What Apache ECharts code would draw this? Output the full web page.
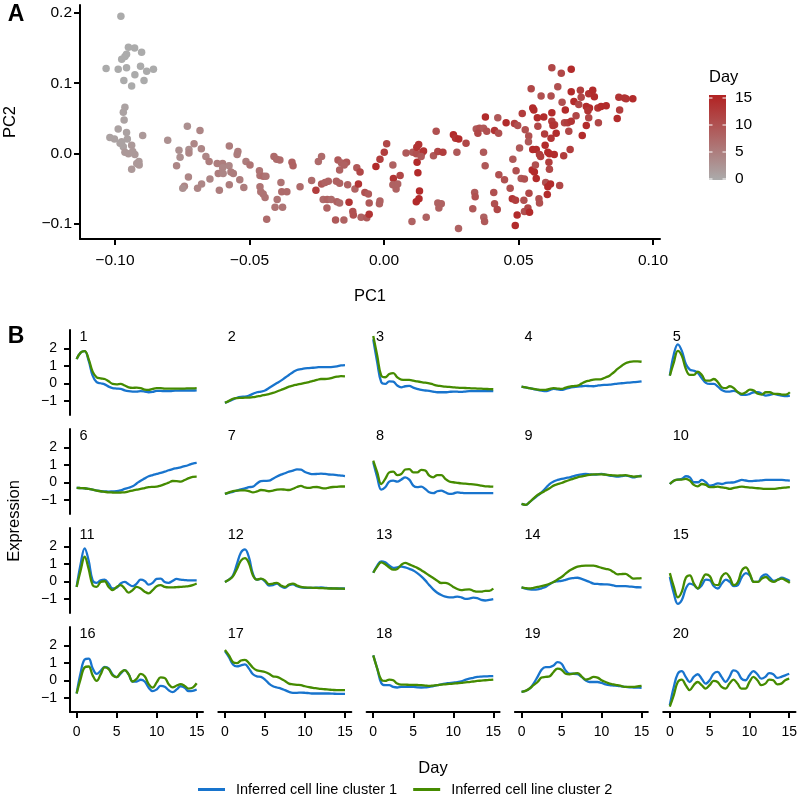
<!DOCTYPE html>
<html>
<head>
<meta charset="utf-8">
<script src="https://cdn.jsdelivr.net/npm/echarts@6.0.0/dist/echarts.min.js"></script>
<style>
  html, body { margin: 0; padding: 0; background: #fff; }
  #main { width: 800px; height: 797px; }
</style>
</head>
<body>
<div id="main"></div>
<script>
// ---- data ----
// panel A: [PC1, PC2, Day]
var cells = [
  [-0.0978,0.195,0],[-0.0950,0.151,0],[-0.0927,0.150,0],[-0.0901,0.144,0],[-0.0957,0.141,0],[-0.0975,0.134,0],
  [-0.1033,0.121,0],[-0.0988,0.120,0],[-0.0957,0.122,0],[-0.0905,0.124,0],[-0.0882,0.117,0],[-0.0857,0.120,0],
  [-0.0926,0.112,0],[-0.0967,0.104,0],[-0.0892,0.104,0],[-0.0938,0.096,0],[-0.0963,0.138,0],
  [-0.0963,0.066,1],[-0.0969,0.059,1],[-0.0966,0.048,1],[-0.0988,0.035,1],[-0.0957,0.030,1],[-0.0897,0.026,2],
  [-0.1019,0.023,1],[-0.1002,0.021,1],[-0.0975,0.017,1],[-0.0954,0.021,1],[-0.0938,0.012,2],[-0.0969,0.010,1],
  [-0.0963,0.002,2],[-0.0950,0.000,2],[-0.0926,-0.001,2],[-0.0934,0.003,2],[-0.0911,-0.011,2],[-0.0910,-0.016,2],
  [-0.0919,-0.014,2],[-0.0938,-0.022,2],[-0.0981,0.015,1],
  [-0.0804,0.019,3],[-0.0731,0.039,3],[-0.0684,0.033,4],[-0.0762,0.005,3],[-0.0725,0.006,3],[-0.0725,0.001,4],
  [-0.0706,0.014,4],[-0.0679,0.007,4],[-0.0758,-0.005,3],[-0.0771,-0.017,4],[-0.0727,-0.033,4],[-0.0742,-0.046,4],
  [-0.0748,-0.049,3],[-0.0693,-0.049,4],[-0.0678,-0.043,4],[-0.0662,-0.004,4],[-0.0650,-0.011,5],[-0.0647,-0.036,4],
  [-0.0620,-0.014,5],[-0.0600,-0.014,5],[-0.0600,-0.020,4],[-0.0616,-0.028,5],[-0.0598,-0.028,4],[-0.0612,-0.052,5],
  [-0.0575,0.011,5],[-0.0576,-0.017,4],[-0.0569,-0.026,5],[-0.0560,-0.028,5],[-0.0575,-0.044,5],[-0.0543,0.003,5],
  [-0.0546,-0.001,5],[-0.0536,-0.037,5],[-0.0521,-0.048,5],[-0.0513,-0.011,5],[-0.0498,-0.016,6],
  [-0.0463,-0.024,6],[-0.0461,-0.031,6],[-0.0449,-0.032,7],[-0.0439,-0.032,6],[-0.0461,-0.047,6],[-0.0458,-0.054,6],
  [-0.0449,-0.057,6],[-0.0442,-0.062,6],[-0.0436,-0.093,7],[-0.0409,-0.004,7],[-0.0399,-0.008,7],[-0.0387,-0.009,7],
  [-0.0383,-0.041,6],[-0.0397,-0.065,6],[-0.0405,-0.076,6],[-0.0377,-0.076,6],[-0.0380,-0.054,7],[-0.0361,-0.054,7],
  [-0.0342,-0.012,8],[-0.0338,-0.017,8],[-0.0312,-0.047,7],
  [-0.0269,-0.038,7],[-0.0244,-0.011,7],[-0.0232,-0.004,7],[-0.0253,-0.052,12],[-0.0232,-0.043,9],[-0.0219,-0.041,8],
  [-0.0207,-0.039,8],[-0.0226,-0.065,7],[-0.0211,-0.065,8],[-0.0196,-0.065,7],[-0.0175,-0.068,8],[-0.0165,-0.070,7],
  [-0.0212,-0.077,8],[-0.0180,-0.094,9],[-0.0149,-0.094,8],[-0.0171,-0.009,9],[-0.0158,-0.013,8],[-0.0139,-0.012,9],
  [-0.0148,-0.016,8],[-0.0165,-0.023,8],[-0.0177,-0.039,8],[-0.0165,-0.042,8],[-0.0135,-0.044,8],[-0.0130,-0.069,13],
  [-0.0116,-0.082,10],[-0.0114,-0.087,10],[-0.0108,-0.050,8],[-0.0101,-0.020,9],[-0.0089,-0.026,11],[-0.0095,-0.043,13],
  [-0.0085,-0.090,8],[-0.0064,-0.091,9],[-0.0071,-0.055,10],[-0.0058,-0.057,9],[-0.0055,-0.070,9],[-0.0055,-0.086,13],
  [-0.0030,-0.018,14],[-0.0015,-0.067,8],[-0.0017,-0.071,8],[-0.0015,-0.008,12],[0.0001,0.002,12],[0.0010,0.014,11],
  [0.0033,-0.016,8],[0.0035,-0.035,13],[0.0060,-0.031,11],[0.0033,-0.044,8],[0.0045,-0.050,8],[0.0051,-0.043,8],
  [0.0104,-0.096,8],[0.0157,-0.090,8],[0.0082,0.001,9],[0.0107,0.002,9],[0.0120,0.000,10],[0.0129,0.013,13],
  [0.0122,0.009,13],[0.0141,0.001,10],[0.0147,0.004,13],[0.0123,-0.012,14],[0.0126,-0.027,14],[0.0132,-0.053,14],
  [0.0130,-0.064,14],[0.0120,-0.068,14],[0.0138,-0.004,9],[0.0184,-0.003,9],[0.0200,0.003,11],[0.0219,0.002,12],
  [0.0194,0.032,10],[0.0200,-0.070,8],[0.0213,-0.071,8],[0.0204,-0.077,8],[0.0258,0.027,14],[0.0266,0.022,13],
  [0.0278,0.021,14],[0.0271,0.002,9],[0.0305,0.015,11],[0.0277,-0.106,8],[0.0337,-0.055,9],[0.0339,-0.061,10],
  [0.0330,-0.078,9],[0.0370,0.002,9],[0.0376,-0.017,9],[0.0371,-0.090,8],[0.0374,-0.096,9],[0.0343,0.035,9],
  [0.0355,0.036,10],[0.0370,0.036,9],[0.0382,0.032,10],[0.0349,0.029,11],[0.0377,0.052,14],[0.0411,0.033,13],
  [0.0426,0.029,10],[0.0423,0.051,9],[0.0408,-0.055,10],[0.0411,-0.071,10],[0.0421,-0.079,11],[0.0427,-0.030,10],
  [0.0448,-0.037,10],[0.0454,0.044,14],[0.0469,-0.049,10],[0.0479,-0.008,9],[0.0477,-0.064,13],[0.0489,-0.066,12],
  [0.0485,0.043,12],[0.0497,0.040,10],[0.0491,-0.024,10],[0.0488,-0.102,14],[0.0495,-0.087,14],[0.0504,0.008,9],
  [0.0514,0.057,12],[0.0525,0.034,10],[0.0510,-0.035,9],[0.0522,-0.036,10],[0.0520,-0.066,10],[0.0522,-0.082,10],
  [0.0535,-0.077,11],[0.0541,-0.083,14],[0.0538,0.025,10],[0.0537,0.017,9],[0.0539,-0.056,11],[0.0547,0.092,11],
  [0.0553,0.065,14],[0.0557,0.062,14],[0.0553,0.006,14],[0.0566,0.006,14],[0.0551,-0.023,14],[0.0559,-0.026,14],
  [0.0563,-0.016,10],[0.0566,-0.035,14],[0.0572,0.039,11],[0.0570,0.051,14],[0.0576,-0.064,10],[0.0578,-0.070,10],
  [0.0578,-0.001,12],[0.0582,-0.004,12],[0.0584,0.082,10],[0.0594,0.052,14],[0.0597,0.028,12],[0.0599,0.012,14],
  [0.0601,-0.041,10],[0.0609,0.002,14],[0.0615,0.000,14],[0.0613,-0.012,12],[0.0607,-0.058,14],[0.0609,-0.047,14],
  [0.0615,-0.022,11],[0.0621,0.082,10],[0.0624,0.058,14],[0.0624,0.046,12],[0.0634,0.041,12],[0.0628,0.040,13],
  [0.0619,-0.043,14],[0.0621,0.022,13],[0.0633,-0.001,14],[0.0640,0.029,14],[0.0646,0.095,10],[0.0653,-0.045,11],
  [0.0624,0.122,11],[0.0659,0.114,11],[0.0696,0.120,14],[0.0662,0.073,10],[0.0668,-0.003,12],[0.0671,0.044,11],
  [0.0683,0.044,12],[0.0674,0.062,14],[0.0687,0.032,11],[0.0692,0.006,12],[0.0696,0.046,13],[0.0696,0.088,14],
  [0.0706,0.074,14],[0.0714,0.054,11],[0.0724,0.070,11],[0.0730,0.090,12],[0.0733,0.080,11],[0.0737,0.026,14],
  [0.0752,0.040,14],[0.0752,0.067,14],[0.0764,0.065,14],[0.0758,0.061,13],[0.0761,0.051,11],[0.0761,0.085,13],
  [0.0776,0.090,14],[0.0782,0.081,14],[0.0797,0.044,11],[0.0795,0.065,13],[0.0807,0.067,14],[0.0826,0.068,14],
  [0.0867,0.050,14],[0.0873,0.080,13],[0.0876,0.062,12],[0.0894,0.079,13],[0.0900,0.078,13],[0.0925,0.078,14]
];
var pc1Ticks = [-0.10, -0.05, 0, 0.05, 0.10];
var pc2Ticks = [-0.1, 0, 0.1, 0.2];
var dayLegendTicks = [0, 5, 10, 15];

// panel B: expression per cluster, sampled every half day
var days = [0,0.5,1,1.5,2,2.5,3,3.5,4,4.5,5,5.5,6,6.5,7,7.5,8,8.5,9,9.5,10,10.5,11,11.5,12,12.5,13,13.5,14,14.5,15];
var dayTicks = [0, 5, 10, 15];
var exprTicks = [-1, 0, 1, 2];

var cluster1 = [
  [1.39,1.76,1.84,1.30,0.45,0.08,0.02,-0.04,-0.17,-0.26,-0.28,-0.30,-0.38,-0.43,-0.45,-0.45,-0.43,-0.45,-0.49,-0.47,-0.41,-0.41,-0.43,-0.43,-0.41,-0.40,-0.39,-0.39,-0.39,-0.39,-0.38],
  [-1.09,-1.0,-0.90,-0.80,-0.75,-0.74,-0.68,-0.58,-0.49,-0.45,-0.39,-0.25,-0.11,0.03,0.17,0.33,0.49,0.65,0.77,0.82,0.86,0.88,0.90,0.92,0.94,0.94,0.94,0.95,0.98,1.03,1.05],
  [2.51,1.20,0.08,-0.02,0.13,0.11,-0.11,-0.21,-0.15,-0.13,-0.23,-0.30,-0.36,-0.39,-0.41,-0.45,-0.49,-0.49,-0.49,-0.47,-0.45,-0.46,-0.47,-0.45,-0.43,-0.43,-0.43,-0.43,-0.43,-0.43,-0.43],
  [-0.17,-0.22,-0.26,-0.31,-0.36,-0.40,-0.43,-0.37,-0.30,-0.33,-0.36,-0.30,-0.24,-0.20,-0.17,-0.15,-0.13,-0.14,-0.15,-0.11,-0.08,-0.07,-0.06,-0.03,0.0,0.02,0.04,0.06,0.08,0.10,0.13],
  [0.45,1.67,2.23,1.86,1.11,0.79,0.73,0.60,0.30,0.04,-0.02,-0.02,-0.17,-0.36,-0.45,-0.45,-0.41,-0.49,-0.64,-0.64,-0.58,-0.49,-0.49,-0.58,-0.68,-0.64,-0.58,-0.64,-0.68,-0.71,-0.68],
  [-0.30,-0.31,-0.32,-0.36,-0.40,-0.45,-0.49,-0.50,-0.51,-0.50,-0.49,-0.44,-0.36,-0.29,-0.21,-0.05,0.11,0.24,0.36,0.43,0.49,0.55,0.62,0.70,0.77,0.82,0.87,0.93,1.0,1.08,1.12],
  [-0.64,-0.58,-0.52,-0.45,-0.38,-0.33,-0.26,-0.23,-0.05,0.08,0.10,0.11,0.22,0.35,0.45,0.53,0.62,0.68,0.75,0.73,0.60,0.52,0.48,0.49,0.51,0.49,0.46,0.45,0.43,0.40,0.37],
  [1.15,0.30,-0.40,-0.26,0.06,0.11,0.06,0.17,0.30,0.17,-0.17,-0.26,-0.23,-0.36,-0.55,-0.60,-0.49,-0.45,-0.55,-0.64,-0.62,-0.55,-0.58,-0.60,-0.60,-0.60,-0.60,-0.60,-0.60,-0.60,-0.60],
  [-1.21,-1.26,-1.11,-0.92,-0.74,-0.55,-0.32,-0.08,0.06,0.15,0.21,0.26,0.30,0.37,0.43,0.46,0.49,0.47,0.45,0.47,0.49,0.45,0.40,0.37,0.34,0.37,0.40,0.35,0.30,0.35,0.40],
  [-0.08,0.11,0.17,0.21,0.36,0.30,0.02,0.02,0.15,0.02,-0.17,-0.13,-0.04,-0.08,-0.02,0.0,0.02,0.09,0.15,0.12,0.08,0.10,0.11,0.13,0.15,0.15,0.15,0.15,0.15,0.13,0.11],
  [-0.30,1.0,1.89,1.19,0.07,-0.07,0.07,0.11,-0.11,-0.39,-0.35,-0.11,-0.02,-0.15,-0.26,-0.11,0.11,0.04,-0.17,-0.07,0.15,0.17,-0.02,-0.07,0.04,0.15,0.11,0.09,0.07,0.07,0.07],
  [-0.02,0.11,0.35,1.0,1.65,1.83,1.37,0.44,0.11,0.15,0.02,-0.22,-0.20,-0.11,-0.26,-0.35,-0.20,-0.15,-0.26,-0.33,-0.35,-0.35,-0.35,-0.34,-0.33,-0.35,-0.37,-0.38,-0.39,-0.39,-0.39],
  [0.50,0.91,1.15,1.09,0.91,0.78,0.81,0.85,0.81,0.72,0.63,0.48,0.30,0.07,-0.20,-0.44,-0.63,-0.76,-0.85,-0.89,-0.89,-0.85,-0.89,-0.98,-0.96,-0.91,-0.94,-1.04,-1.07,-1.04,-1.0],
  [-0.33,-0.40,-0.44,-0.45,-0.44,-0.38,-0.30,-0.15,-0.02,0.02,0.04,0.10,0.17,0.20,0.22,0.15,0.07,-0.02,-0.11,-0.13,-0.15,-0.16,-0.17,-0.22,-0.26,-0.26,-0.26,-0.28,-0.30,-0.32,-0.33],
  [0.26,-0.67,-1.26,-1.04,-0.39,-0.11,-0.20,-0.39,-0.20,0.11,0.07,-0.26,-0.39,-0.11,0.11,-0.02,-0.26,-0.20,0.26,0.48,0.35,-0.02,-0.02,0.30,0.41,0.22,0.04,0.11,0.22,0.15,0.04],
  [-0.73,0.45,1.20,1.25,0.70,0.38,0.55,0.78,0.70,0.35,0.20,0.40,0.60,0.35,-0.05,-0.05,0.05,-0.05,-0.40,-0.60,-0.50,-0.30,-0.35,-0.55,-0.65,-0.50,-0.32,-0.40,-0.60,-0.58,-0.50],
  [1.67,1.33,0.92,0.81,0.86,0.92,0.68,0.36,0.24,0.21,0.06,-0.17,-0.32,-0.39,-0.45,-0.54,-0.64,-0.69,-0.69,-0.68,-0.69,-0.71,-0.73,-0.73,-0.73,-0.73,-0.73,-0.74,-0.75,-0.75,-0.75],
  [1.43,0.68,-0.13,-0.26,-0.26,-0.36,-0.39,-0.36,-0.36,-0.36,-0.36,-0.38,-0.39,-0.38,-0.36,-0.31,-0.26,-0.21,-0.17,-0.14,-0.11,-0.08,-0.04,0.04,0.11,0.16,0.21,0.23,0.24,0.25,0.26],
  [-0.64,-0.58,-0.45,-0.17,0.21,0.62,0.77,0.77,0.86,1.05,0.96,0.58,0.39,0.39,0.36,0.21,0.02,-0.08,-0.08,-0.08,-0.13,-0.21,-0.26,-0.28,-0.30,-0.33,-0.36,-0.38,-0.39,-0.40,-0.41],
  [-1.39,-0.36,0.39,0.54,0.21,-0.08,0.21,0.36,0.11,-0.17,0.02,0.39,0.49,0.21,-0.08,0.21,0.58,0.49,0.11,0.02,0.30,0.54,0.36,0.11,0.21,0.43,0.36,0.15,0.21,0.30,0.39]
];
var cluster2 = [
  [1.39,1.76,1.84,1.39,0.68,0.36,0.30,0.26,0.13,-0.02,-0.04,-0.02,-0.11,-0.21,-0.24,-0.23,-0.26,-0.34,-0.36,-0.30,-0.26,-0.26,-0.28,-0.28,-0.28,-0.28,-0.28,-0.28,-0.27,-0.27,-0.26],
  [-1.09,-0.98,-0.86,-0.82,-0.81,-0.80,-0.79,-0.77,-0.73,-0.69,-0.64,-0.59,-0.53,-0.45,-0.36,-0.27,-0.17,-0.11,-0.06,-0.01,0.04,0.09,0.15,0.21,0.26,0.26,0.28,0.34,0.39,0.42,0.41],
  [2.70,1.58,0.45,0.36,0.54,0.60,0.36,0.23,0.21,0.21,0.17,0.12,0.08,0.05,0.02,-0.05,-0.11,-0.14,-0.17,-0.19,-0.21,-0.23,-0.24,-0.25,-0.26,-0.27,-0.28,-0.29,-0.30,-0.31,-0.32],
  [-0.17,-0.22,-0.26,-0.30,-0.34,-0.36,-0.36,-0.30,-0.26,-0.28,-0.30,-0.23,-0.17,-0.14,-0.11,0.0,0.11,0.17,0.23,0.24,0.26,0.35,0.45,0.63,0.83,1.0,1.16,1.23,1.26,1.26,1.24],
  [0.45,1.20,1.86,1.58,0.83,0.49,0.49,0.68,0.49,0.17,0.17,0.26,0.08,-0.21,-0.26,-0.15,-0.26,-0.49,-0.58,-0.49,-0.34,-0.39,-0.58,-0.62,-0.49,-0.49,-0.58,-0.58,-0.62,-0.62,-0.49],
  [-0.30,-0.31,-0.32,-0.36,-0.40,-0.45,-0.49,-0.52,-0.55,-0.56,-0.57,-0.56,-0.55,-0.50,-0.45,-0.40,-0.36,-0.31,-0.26,-0.24,-0.23,-0.17,-0.09,0.0,0.09,0.08,0.06,0.15,0.25,0.32,0.34],
  [-0.64,-0.55,-0.48,-0.45,-0.44,-0.44,-0.48,-0.55,-0.50,-0.42,-0.44,-0.49,-0.45,-0.40,-0.38,-0.40,-0.42,-0.35,-0.25,-0.19,-0.27,-0.30,-0.26,-0.25,-0.30,-0.33,-0.28,-0.25,-0.24,-0.22,-0.22],
  [1.25,0.58,-0.08,0.21,0.58,0.62,0.43,0.49,0.74,0.77,0.58,0.58,0.72,0.68,0.40,0.30,0.43,0.43,0.21,0.06,0.02,-0.01,-0.04,-0.06,-0.08,-0.10,-0.13,-0.17,-0.21,-0.22,-0.23],
  [-1.21,-1.26,-1.11,-0.89,-0.70,-0.58,-0.45,-0.32,-0.17,-0.09,-0.02,0.07,0.15,0.23,0.30,0.35,0.40,0.44,0.47,0.47,0.47,0.45,0.43,0.41,0.40,0.41,0.42,0.38,0.34,0.35,0.36],
  [-0.08,0.11,0.17,0.17,0.21,0.11,-0.13,-0.21,-0.08,-0.13,-0.26,-0.25,-0.23,-0.27,-0.30,-0.36,-0.30,-0.26,-0.23,-0.26,-0.28,-0.30,-0.32,-0.34,-0.36,-0.36,-0.36,-0.33,-0.30,-0.28,-0.26],
  [-0.30,0.63,1.41,0.72,-0.20,-0.30,-0.02,0.02,-0.30,-0.48,-0.30,-0.20,-0.39,-0.63,-0.48,-0.30,-0.39,-0.57,-0.67,-0.48,-0.26,-0.20,-0.30,-0.33,-0.33,-0.31,-0.30,-0.28,-0.26,-0.20,-0.11],
  [-0.02,0.11,0.30,0.72,1.19,1.33,1.04,0.35,0.11,0.17,0.07,-0.15,-0.11,-0.07,-0.22,-0.30,-0.17,-0.11,-0.22,-0.30,-0.33,-0.34,-0.35,-0.36,-0.37,-0.38,-0.39,-0.39,-0.39,-0.40,-0.41],
  [0.50,0.85,1.09,0.98,0.80,0.68,0.72,0.95,1.06,0.98,0.88,0.78,0.65,0.50,0.35,0.20,0.05,-0.08,-0.07,-0.15,-0.30,-0.42,-0.48,-0.45,-0.44,-0.52,-0.57,-0.57,-0.52,-0.52,-0.39],
  [-0.33,-0.37,-0.39,-0.35,-0.30,-0.26,-0.20,-0.12,-0.02,0.12,0.26,0.45,0.63,0.75,0.85,0.89,0.91,0.91,0.91,0.85,0.78,0.72,0.67,0.54,0.41,0.43,0.44,0.30,0.17,0.18,0.20],
  [0.48,-0.30,-0.89,-0.57,0.22,0.35,-0.11,-0.39,0.07,0.41,0.30,-0.15,-0.20,0.30,0.48,0.22,-0.20,-0.02,0.63,0.81,0.44,-0.02,-0.02,0.17,0.26,0.07,-0.02,0.11,0.17,0.07,-0.07],
  [-0.73,0.10,0.75,0.80,0.30,-0.02,0.35,0.75,0.65,0.30,0.20,0.45,0.60,0.35,-0.05,0.10,0.38,0.25,-0.20,-0.40,-0.10,0.18,0.15,-0.20,-0.38,-0.28,-0.20,-0.30,-0.45,-0.40,-0.15],
  [1.74,1.43,1.05,0.99,1.14,1.18,0.99,0.73,0.58,0.54,0.49,0.39,0.24,0.21,0.11,-0.02,-0.17,-0.21,-0.24,-0.26,-0.32,-0.37,-0.41,-0.44,-0.47,-0.49,-0.51,-0.53,-0.54,-0.54,-0.54],
  [1.43,0.68,0.06,-0.02,0.06,0.02,-0.17,-0.23,-0.23,-0.24,-0.24,-0.25,-0.26,-0.28,-0.30,-0.28,-0.26,-0.23,-0.21,-0.19,-0.17,-0.15,-0.13,-0.10,-0.08,-0.05,-0.02,0.0,0.02,0.04,0.06],
  [-0.64,-0.58,-0.45,-0.26,-0.08,0.17,0.21,0.24,0.49,0.68,0.62,0.39,0.36,0.39,0.43,0.24,0.06,0.11,0.21,0.17,0.02,-0.08,-0.17,-0.22,-0.26,-0.31,-0.36,-0.36,-0.36,-0.33,-0.30],
  [-1.48,-0.83,-0.08,0.06,-0.26,-0.54,-0.26,-0.08,-0.26,-0.45,-0.26,-0.02,-0.08,-0.36,-0.45,-0.17,0.06,-0.17,-0.45,-0.45,-0.08,0.21,0.02,-0.26,-0.17,0.06,0.02,-0.21,-0.17,0.02,0.11]
];
var clusterNames = ['Inferred cell line cluster 1', 'Inferred cell line cluster 2'];

// ---- styling ----
var FONT = '"Liberation Sans", Arial, Helvetica, sans-serif';
var BLUE = '#1874CD', GREEN = '#458B00';
var LOW = '#ABABAB', HIGH = '#B22222';

function fmt(v, d) {
  var s = Math.abs(v).toFixed(d);
  return v < -1e-9 ? '\u2212' + s : s;
}
function axisStyle(show) {
  return { show: show, onZero: false, lineStyle: { color: '#000', width: 2 } };
}

var myChart = echarts.init(document.getElementById('main'), null, { renderer: 'canvas' });

var grids = [{ left: 80, top: 5, width: 580, height: 234 }];
var xAxes = [{
  gridIndex: 0, type: 'value', min: -0.113, max: 0.1026,
  axisLine: axisStyle(true),
  axisTick: { customValues: pc1Ticks, length: 6, lineStyle: { color: '#000', width: 2 } },
  axisLabel: { customValues: pc1Ticks, margin: 14, fontSize: 15.5, fontFamily: FONT, color: '#000',
               formatter: function (v) { return fmt(v, 2); } },
  splitLine: { show: false }
}];
var yAxes = [{
  gridIndex: 0, type: 'value', min: -0.121, max: 0.211,
  axisLine: axisStyle(true),
  axisTick: { customValues: pc2Ticks, length: 6, lineStyle: { color: '#000', width: 2 } },
  axisLabel: { customValues: pc2Ticks, margin: 8, fontSize: 15.5, fontFamily: FONT, color: '#000',
               formatter: function (v) { return fmt(v, 1); } },
  splitLine: { show: false }
}];
var series = [{
  type: 'scatter', xAxisIndex: 0, yAxisIndex: 0, data: cells, symbolSize: 7.5,
  itemStyle: { opacity: 1 }
}];

var graphic = [];
for (var k = 0; k < 20; k++) {
  var r = Math.floor(k / 5), c = k % 5;
  var gl = 70 + c * 148.3, gt = 330 + r * 99;
  grids.push({ left: gl, top: gt, width: 133, height: 85 });
  xAxes.push({
    gridIndex: k + 1, type: 'value', min: -0.83, max: 15.79,
    axisLine: axisStyle(r === 3),
    axisTick: { show: r === 3, customValues: dayTicks, length: 6, lineStyle: { color: '#000', width: 2 } },
    axisLabel: { show: r === 3, customValues: dayTicks, margin: 13, fontSize: 14, fontFamily: FONT, color: '#000' },
    splitLine: { show: false }
  });
  yAxes.push({
    gridIndex: k + 1, type: 'value', min: -1.78, max: 3.04,
    axisLine: axisStyle(c === 0),
    axisTick: { show: c === 0, customValues: exprTicks, length: 6, lineStyle: { color: '#000', width: 2 } },
    axisLabel: { show: c === 0, customValues: exprTicks, margin: 13, fontSize: 14, fontFamily: FONT, color: '#000',
                 formatter: function (v) { return fmt(v, 0); } },
    splitLine: { show: false }
  });
  [cluster1, cluster2].forEach(function (cl, j) {
    series.push({
      name: clusterNames[j], type: 'line', xAxisIndex: k + 1, yAxisIndex: k + 1,
      data: days.map(function (d, i) { return [d, cl[k][i]]; }),
      showSymbol: false, symbol: 'none', smooth: 0.4,
      lineStyle: { color: j ? GREEN : BLUE, width: 2.3 },
      itemStyle: { color: j ? GREEN : BLUE }
    });
  });
  graphic.push({ type: 'text', x: gl + 9.5, y: gt + 6.5,
    style: { text: String(k + 1), fontSize: 14.5, fontFamily: FONT, fill: '#000', verticalAlign: 'middle' } });
}

// titles and panel letters
graphic.push(
  { type: 'text', x: 16, y: 15, style: { text: 'A', fontSize: 23, fontWeight: 'bold', fontFamily: FONT, fill: '#000', align: 'center', verticalAlign: 'middle' } },
  { type: 'text', x: 16, y: 337, style: { text: 'B', fontSize: 23, fontWeight: 'bold', fontFamily: FONT, fill: '#000', align: 'center', verticalAlign: 'middle' } },
  { type: 'text', x: 370, y: 296, style: { text: 'PC1', fontSize: 16.5, fontFamily: FONT, fill: '#000', align: 'center', verticalAlign: 'middle' } },
  { type: 'text', x: 10, y: 122, rotation: Math.PI / 2, style: { text: 'PC2', fontSize: 16.5, fontFamily: FONT, fill: '#000', align: 'center', verticalAlign: 'middle' } },
  { type: 'text', x: 14, y: 521, rotation: Math.PI / 2, style: { text: 'Expression', fontSize: 16.5, fontFamily: FONT, fill: '#000', align: 'center', verticalAlign: 'middle' } },
  { type: 'text', x: 433, y: 768, style: { text: 'Day', fontSize: 16.5, fontFamily: FONT, fill: '#000', align: 'center', verticalAlign: 'middle' } }
);

// colour bar for Day
graphic.push(
  { type: 'text', x: 709, y: 77, style: { text: 'Day', fontSize: 16.5, fontFamily: FONT, fill: '#000', verticalAlign: 'middle' } },
  { type: 'rect', shape: { x: 709, y: 95, width: 17, height: 85 },
    style: { fill: new echarts.graphic.LinearGradient(0, 0, 0, 1, [{ offset: 0, color: HIGH }, { offset: 1, color: LOW }]) } }
);
dayLegendTicks.forEach(function (d) {
  var y = 179 - d * 5.4;
  graphic.push(
    { type: 'line', shape: { x1: 709, y1: y, x2: 712.5, y2: y }, style: { stroke: '#fff', lineWidth: 1 } },
    { type: 'line', shape: { x1: 722.5, y1: y, x2: 726, y2: y }, style: { stroke: '#fff', lineWidth: 1 } },
    { type: 'text', x: 735, y: y, style: { text: String(d), fontSize: 15.5, fontFamily: FONT, fill: '#000', verticalAlign: 'middle' } }
  );
});

var option = {
  animation: false,
  textStyle: { fontFamily: FONT },
  grid: grids,
  xAxis: xAxes,
  yAxis: yAxes,
  visualMap: {
    show: false, type: 'continuous', min: 0, max: 15, dimension: 2, seriesIndex: 0,
    inRange: { color: [LOW, HIGH] }
  },
  legend: {
    data: clusterNames, left: 198, top: 782, padding: 0, icon: 'rect', itemWidth: 27, itemHeight: 3, itemGap: 16,
    textStyle: { fontSize: 14.5, fontFamily: FONT, color: '#000', padding: [0, 0, 0, 6] }
  },
  graphic: graphic,
  series: series
};

myChart.setOption(option);
</script>
</body>
</html>
